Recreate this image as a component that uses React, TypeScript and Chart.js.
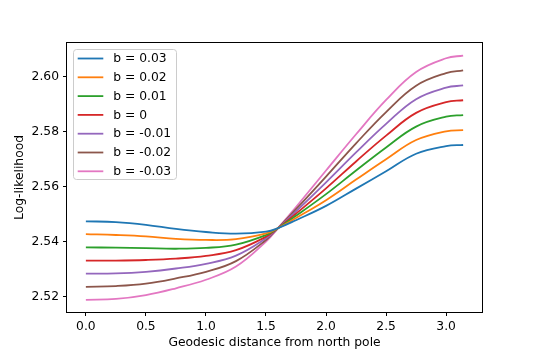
import React, { useEffect, useRef } from 'react';
import { Chart, registerables } from 'chart.js';

Chart.register(...registerables);

// Geodesic distance samples (radians)
const distances = [0, 0.25, 0.5, 0.75, 1.0, 1.25, 1.5, 1.6, 1.75, 2.0, 2.25, 2.5, 2.75, 3.0, 3.1416];

const seriesLabels = ['b = 0.03', 'b = 0.02', 'b = 0.01', 'b = 0', 'b = -0.01', 'b = -0.02', 'b = -0.03'];
const seriesColors = ['#1f77b4', '#ff7f0e', '#2ca02c', '#d62728', '#9467bd', '#8c564b', '#e377c2'];

const bPos003 = [2.5474, 2.5471, 2.5461, 2.5446, 2.5435, 2.5429, 2.5436, 2.5449, 2.5478, 2.5530, 2.5593, 2.5656, 2.5720, 2.5748, 2.5752];
const bPos002 = [2.5427, 2.5424, 2.5419, 2.5410, 2.5406, 2.5409, 2.5430, 2.5449, 2.5486, 2.5551, 2.5626, 2.5700, 2.5770, 2.5802, 2.5806];
const bPos001 = [2.5379, 2.5378, 2.5376, 2.5374, 2.5377, 2.5389, 2.5424, 2.5449, 2.5494, 2.5573, 2.5659, 2.5743, 2.5819, 2.5855, 2.5861];
const bZero = [2.5331, 2.5331, 2.5333, 2.5338, 2.5348, 2.5369, 2.5418, 2.5449, 2.5502, 2.5594, 2.5692, 2.5786, 2.5869, 2.5908, 2.5915];
const bNeg001 = [2.5283, 2.5284, 2.5290, 2.5302, 2.5319, 2.5349, 2.5412, 2.5449, 2.5510, 2.5616, 2.5725, 2.5829, 2.5919, 2.5961, 2.5969];
const bNeg002 = [2.5235, 2.5238, 2.5247, 2.5266, 2.5290, 2.5329, 2.5406, 2.5449, 2.5518, 2.5637, 2.5758, 2.5872, 2.5968, 2.6014, 2.6024];
const bNeg003 = [2.5188, 2.5191, 2.5205, 2.5230, 2.5261, 2.5309, 2.5400, 2.5449, 2.5526, 2.5659, 2.5791, 2.5916, 2.6018, 2.6068, 2.6078];

const seriesValues = [bPos003, bPos002, bPos001, bZero, bNeg001, bNeg002, bNeg003];

const xTicks = [0, 0.5, 1.0, 1.5, 2.0, 2.5, 3.0];
const yTicks = [2.52, 2.54, 2.56, 2.58, 2.60];

const FONT = 'DejaVu Sans';
const FS = 12.3;

const framePlugin = {
  id: 'frame',
  afterDatasetsDraw(chart: any) {
    const { ctx, chartArea } = chart;
    const l = Math.round(chartArea.left);
    const t = Math.round(chartArea.top);
    const r = Math.round(chartArea.right);
    const b = Math.round(chartArea.bottom);
    ctx.save();
    ctx.strokeStyle = '#000';
    ctx.lineWidth = 1;
    ctx.strokeRect(l - 0.5, t - 0.5, r - l + 1, b - t + 1);
    ctx.restore();
  },
};

const legendPlugin = {
  id: 'insideLegend',
  afterDraw(chart: any) {
    const { ctx, chartArea } = chart;
    const x0 = chartArea.left + 6;
    const y0 = chartArea.top + 6;
    const w = 103;
    const h = 130;
    const rowH = 18.8;
    ctx.save();
    ctx.beginPath();
    (ctx as any).roundRect(x0 + 0.5, y0 + 0.5, w, h, 3);
    ctx.fillStyle = 'rgba(255,255,255,0.8)';
    ctx.fill();
    ctx.strokeStyle = '#cccccc';
    ctx.lineWidth = 1;
    ctx.stroke();
    chart.data.datasets.forEach((ds: any, i: number) => {
      const cy = y0 + 9.5 + i * rowH;
      ctx.strokeStyle = ds.borderColor;
      ctx.lineWidth = 1.8;
      ctx.beginPath();
      ctx.moveTo(x0 + 4.7, cy);
      ctx.lineTo(x0 + 30.3, cy);
      ctx.stroke();
      ctx.fillStyle = '#000';
      ctx.font = `${FS}px "${FONT}"`;
      ctx.textBaseline = 'middle';
      ctx.textAlign = 'left';
      ctx.fillText(ds.label, x0 + 40.3, cy + 0.5);
    });
    ctx.restore();
  },
};

export default function App() {
  const canvasRef = useRef<HTMLCanvasElement | null>(null);

  useEffect(() => {
    document.body.style.margin = '0';
    const canvas = canvasRef.current;
    if (!canvas) return;

    const datasets = seriesValues.map((vals, i) => ({
      label: seriesLabels[i],
      data: vals.map((v, j) => ({ x: distances[j], y: v })),
      borderColor: seriesColors[i],
      backgroundColor: seriesColors[i],
      borderWidth: 1.8,
      pointRadius: 0,
      fill: false,
      tension: 0.4,
    }));

    const chart = new Chart(canvas, {
      type: 'line',
      data: { datasets },
      options: {
        animation: false,
        responsive: false,
        maintainAspectRatio: false,
        layout: { padding: { left: 0, right: 54, top: 43, bottom: 0 } },
        plugins: {
          legend: { display: false },
          tooltip: { enabled: false },
        },
        scales: {
          x: {
            type: 'linear',
            min: -0.1571,
            max: 3.2987,
            afterBuildTicks: (scale: any) => {
              scale.ticks = xTicks.map((v) => ({ value: v }));
            },
            afterFit: (scale: any) => {
              scale.height = 45;
            },
            ticks: {
              color: '#000',
              font: { family: FONT, size: FS },
              padding: 3,
              maxRotation: 0,
              autoSkip: false,
              callback: (v: any) => Number(v).toFixed(1),
            },
            grid: {
              display: true,
              drawOnChartArea: false,
              drawTicks: true,
              tickLength: 4,
              color: '#000',
            },
            border: { display: false },
            title: {
              display: true,
              text: 'Geodesic distance from north pole',
              color: '#000',
              font: { family: FONT, size: FS },
              padding: { top: 0, bottom: 6.5 },
            },
          },
          y: {
            type: 'linear',
            min: 2.51435,
            max: 2.61236,
            afterBuildTicks: (scale: any) => {
              scale.ticks = yTicks.map((v) => ({ value: v }));
            },
            afterFit: (scale: any) => {
              scale.width = 67;
            },
            ticks: {
              color: '#000',
              font: { family: FONT, size: FS },
              padding: 4,
              autoSkip: false,
              callback: (v: any) => Number(v).toFixed(2),
            },
            grid: {
              display: true,
              drawOnChartArea: false,
              drawTicks: true,
              tickLength: 4,
              color: '#000',
            },
            border: { display: false },
            title: {
              display: true,
              text: 'Log-likelihood',
              color: '#000',
              font: { family: FONT, size: FS },
              padding: { top: 12.5, bottom: 0 },
            },
          },
        },
      },
      plugins: [framePlugin, legendPlugin],
    });

    return () => {
      chart.destroy();
    };
  }, []);

  return (
    <div style={{ width: 536, height: 357 }}>
      <canvas ref={canvasRef} width={536} height={357} style={{ width: 536, height: 357, display: 'block' }} />
    </div>
  );
}
